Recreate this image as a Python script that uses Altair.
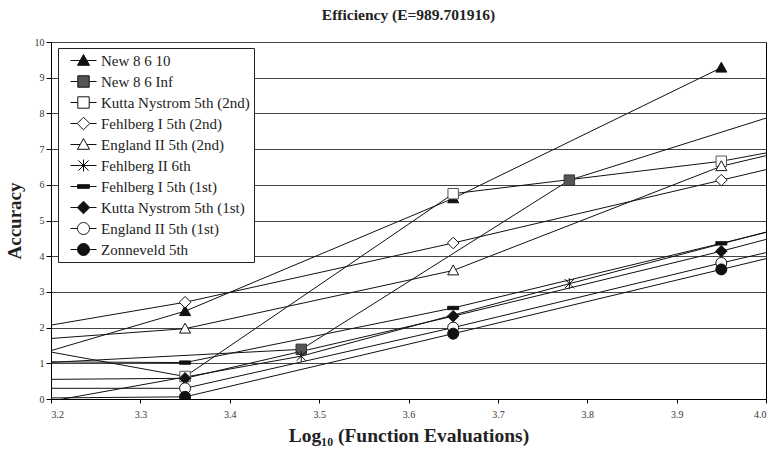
import re
import altair as alt
import pandas as pd

# ---------------- data ----------------
series = [
    "New 8 6 10",
    "New 8 6 Inf",
    "Kutta Nystrom 5th (2nd)",
    "Fehlberg I 5th (2nd)",
    "England II 5th (2nd)",
    "Fehlberg II 6th",
    "Fehlberg I 5th (1st)",
    "Kutta Nystrom 5th (1st)",
    "England II 5th (1st)",
    "Zonneveld 5th",
]

x_main = [3.05, 3.35, 3.65, 3.95, 4.25]
x_shift = [3.18, 3.48, 3.78, 4.08]

y_new_8_6_10 = [0.25, 2.46, 5.62, 9.28]
y_new_8_6_inf = [1.00, 1.39, 6.13, 8.50]
y_kutta_2nd = [2.00, 0.63, 5.75, 6.66, 8.05]
y_fehlberg1_2nd = [1.43, 2.71, 4.37, 6.13, 7.90]
y_england2_2nd = [1.42, 1.97, 3.60, 6.52, 8.30]
y_fehlberg2_6th = [-0.15, 1.20, 3.23, 5.20]
y_fehlberg1_1st = [1.06, 1.02, 2.55, 4.36, 6.20]
y_kutta_1st = [0.52, 0.58, 2.32, 4.14, 6.12]
y_england2_1st = [0.30, 0.30, 2.00, 3.81, 5.55]
y_zonneveld = [0.00, 0.06, 1.83, 3.63, 5.43]

x_ticks = [3.2, 3.3, 3.4, 3.5, 3.6, 3.7, 3.8, 3.9, 4.0]
y_ticks = [0, 1, 2, 3, 4, 5, 6, 7, 8, 9, 10]

series_x = [x_main[:4], x_shift, x_main, x_main, x_main, x_shift, x_main, x_main, x_main, x_main]
series_y = [y_new_8_6_10, y_new_8_6_inf, y_kutta_2nd, y_fehlberg1_2nd, y_england2_2nd,
            y_fehlberg2_6th, y_fehlberg1_1st, y_kutta_1st, y_england2_1st, y_zonneveld]

rows = []
for i, name in enumerate(series):
    for xv, yv in zip(series_x[i], series_y[i]):
        rows.append({"series": name, "idx": i, "x": xv, "y": yv})
df = pd.DataFrame(rows)

# ---------------- marker styles ----------------
TRI = "M0,-1 L1,0.8 L-1,0.8 Z"
SQR = "M-0.95,-0.95 L0.95,-0.95 L0.95,0.95 L-0.95,0.95 Z"
DIA = "M0,-1.05 L1.05,0 L0,1.05 L-1.05,0 Z"
STAR = "M-0.85,-0.85 L0.85,0.85 M-0.85,0.85 L0.85,-0.85 M0,-1 L0,1"
DASH = "M-1,-0.3 L1,-0.3 L1,0.3 L-1,0.3 Z"
CIRC = ("M-1,0 C-1,-0.552 -0.552,-1 0,-1 C0.552,-1 1,-0.552 1,0 "
        "C1,0.552 0.552,1 0,1 C-0.552,1 -1,0.552 -1,0 Z")

markers = [TRI, SQR, SQR, DIA, TRI, STAR, DASH, DIA, CIRC, CIRC]
gaps = [0.556, 0.95, 0.95, 1.05, 0.556, 0.0, 0.0, 1.05, 1.0, 1.0]
fills = ["#111111", "#555555", "#ffffff", "#ffffff", "#ffffff",
         "#111111", "#111111", "#111111", "#ffffff", "#111111"]
strokes = ["#111111", "#333333", "#555555", "#111111", "#111111",
           "#111111", "#111111", "#111111", "#111111", "#111111"]
legend_strokes = ["#111111"] * len(series)


def place(path, cx, s):
    return re.sub(r"(-?[\d.]+),(-?[\d.]+)",
                  lambda m: f"{cx + s * float(m.group(1)):.3f},{s * float(m.group(2)):.3f}",
                  path)


CX = 1.625
S = 0.75
legend_paths = []
for mk, g in zip(markers, gaps):
    body = place(mk, CX, S)
    if g > 0:
        line = f"M0,0 L{CX - g * S:.3f},0 M{CX + g * S:.3f},0 L{2 * CX:.3f},0 "
    else:
        line = f"M0,0 L{2 * CX:.3f},0 "
    legend_paths.append(line + body)

SERIF = "Liberation Serif"

xscale = alt.Scale(domain=[3.2, 4.0], nice=False, zero=False)
yscale = alt.Scale(domain=[0, 10], nice=False, zero=False)

x_enc = alt.X("x:Q", scale=xscale, axis=alt.Axis(
    values=x_ticks, format=".1f", grid=False, tickSize=4, labelPadding=6,
    title="Log\u2081\u2080 (Function Evaluations)", titleFont=SERIF, titleFontSize=19.5,
    titleFontWeight="bold", titleColor="#222222", titlePadding=7,
    labelFont=SERIF, labelFontSize=10, labelColor="#333333",
    domainColor="#000000", tickColor="#000000"))
y_enc = alt.Y("y:Q", scale=yscale, axis=alt.Axis(
    values=y_ticks, format="d", grid=True, gridColor="#444444", gridWidth=1,
    tickSize=5, labelPadding=2,
    title="Accuracy", titleFont=SERIF, titleFontSize=19, titleFontWeight="bold",
    titleColor="#222222", titlePadding=10,
    labelFont=SERIF, labelFontSize=10, labelColor="#333333",
    domainColor="#000000", tickColor="#000000"))

lines = alt.Chart(df).mark_line(color="#111111", strokeWidth=1, clip=True).encode(
    x=x_enc, y=y_enc, detail="series:N", order="x:Q")

points = alt.Chart(df).mark_point(filled=True, size=121, strokeWidth=1, opacity=1, clip=True).encode(
    x=x_enc, y=y_enc,
    shape=alt.Shape("series:N", scale=alt.Scale(domain=series, range=markers), legend=None),
    fill=alt.Fill("series:N", scale=alt.Scale(domain=series, range=fills), legend=None),
    stroke=alt.Stroke("series:N", scale=alt.Scale(domain=series, range=strokes), legend=None),
)

leg = alt.Legend(
    title=None, orient="none", legendX=7, legendY=6,
    symbolSize=256, labelOffset=22, padding=4, rowPadding=4,
    strokeColor="#222222", fillColor="#ffffff", cornerRadius=0,
    labelFont=SERIF, labelFontSize=15, labelColor="#222222", labelLimit=300,
    symbolStrokeWidth=1, symbolOpacity=1,
)

legend_layer = alt.Chart(df).transform_filter("false").mark_point(
    filled=True, size=256, strokeWidth=1, opacity=1).encode(
    x=x_enc, y=y_enc,
    shape=alt.Shape("series:N", scale=alt.Scale(domain=series, range=legend_paths), legend=leg),
    fill=alt.Fill("series:N", scale=alt.Scale(domain=series, range=fills), legend=leg),
    stroke=alt.Stroke("series:N", scale=alt.Scale(domain=series, range=legend_strokes), legend=leg),
)

chart = alt.layer(lines, points, legend_layer).resolve_scale(
    shape="independent", fill="independent", stroke="independent"
).properties(
    width=715, height=357,
    title=alt.TitleParams("Efficiency (E=989.701916)", font=SERIF, fontSize=15.5,
                          fontWeight="bold", color="#222222", anchor="middle",
                          offset=14),
    padding={"left": 51, "top": 42, "right": 9, "bottom": 58},
    autosize=alt.AutoSizeParams(type="none"),
    background="#ffffff",
).configure_view(stroke="#000000", strokeWidth=1)

chart.save("out.html", embed_options={"renderer": "svg", "actions": False})
